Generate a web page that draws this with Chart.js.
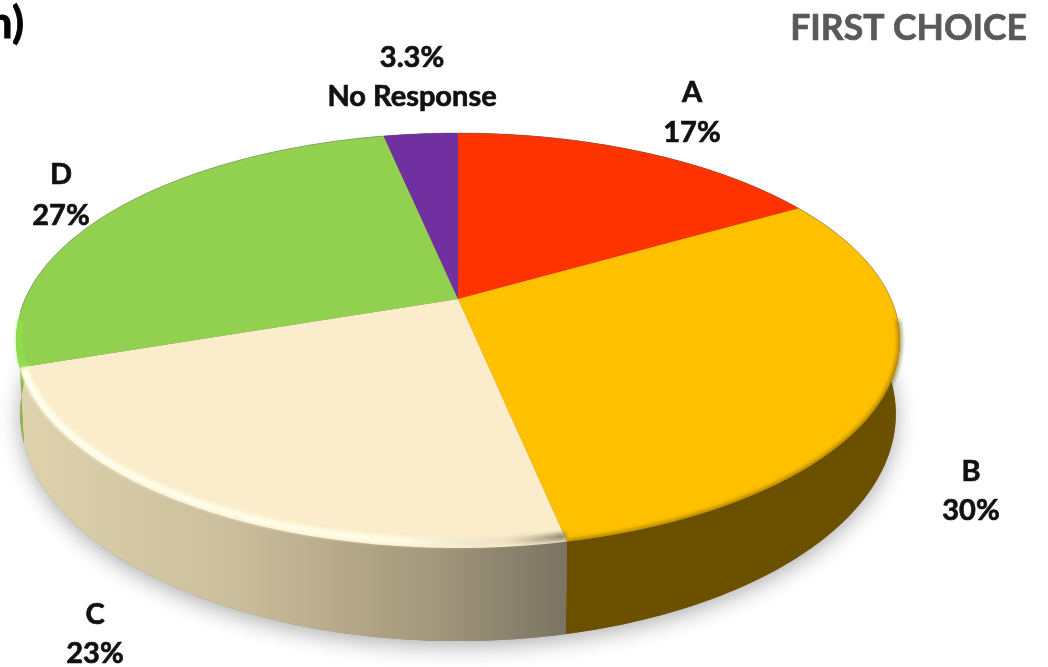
<!DOCTYPE html>
<html>
<head>
<meta charset="utf-8">
<title>First Choice</title>
<script src="https://cdn.jsdelivr.net/npm/chart.js@4"></script>
<style>
  html, body { margin: 0; padding: 0; background: #fff; overflow: hidden; }
  canvas { display: block; }
</style>
</head>
<body>
<div style="width:1048px;height:667px"><canvas id="myChart"></canvas></div>
<script>
// data
var categories = ["A", "B", "C", "D", "No Response"]
var values = [16.7, 30.2, 23.1, 27, 3.3]
var valueLabels = ["17%", "30%", "23%", "27%", "3.3%"]
var colors = ["#FF3300", "#FFC000", "#FBEDCB", "#92D050", "#7030A0"]
var chartTitle = "FIRST CHOICE"
var cutTitle = "n)"

// where the label pairs sit: centre x, first line y, second line y
var labelPos = [[692, 93, 133], [971, 472, 511], [95, 615, 654], [61, 175, 216], [412, 97, 58]]

// tilted disc, a perspective view of the flat pie
var top3d = { cx: 458, cy: 299, a: 433, b: 199.2, k: 0.2 }
var bottom3d = { cx: 458, cy: 368.6, a: 429, b: 218, k: 0.2 }

function project(p, ang) {
  var u = Math.cos(ang), v = Math.sin(ang)
  var w = 1 - p.k * v
  return [p.cx + p.a * u / w, p.cy + p.b * v / w]
}

function traceArc(ctx, p, from, to, move) {
  var n = 120
  for (var i = 0; i <= n; i++) {
    var q = project(p, from + (to - from) * i / n)
    if (i === 0 && move) ctx.moveTo(q[0], q[1])
    else ctx.lineTo(q[0], q[1])
  }
}

// draw the library's arcs one pixel row at a time, each row with its own scale
function drawArcsInPerspective(chart, arcs) {
  var ctx = chart.ctx
  var p = top3d
  var first = arcs[0]
  var r = first.outerRadius
  for (var Y = 120; Y < 560; Y++) {
    var v0 = (Y - p.cy) / (p.b + p.k * (Y - p.cy))
    var v1 = (Y + 1 - p.cy) / (p.b + p.k * (Y + 1 - p.cy))
    if (v0 < -1.02 || v1 > 1.02) continue
    var w = 1 - p.k * (v0 + v1) / 2
    var sx = p.a / w / r
    var sy = 1 / (r * (v1 - v0))
    ctx.save()
    ctx.setTransform(1, 0, 0, 1, 0, 0)
    ctx.beginPath()
    ctx.rect(0, Y, 1048, 1)
    ctx.clip()
    ctx.setTransform(sx, 0, 0, sy, p.cx - first.x * sx, Y - (first.y + r * v0) * sy)
    arcs.forEach(function(arc) { arc.draw(ctx, chart.chartArea) })
    ctx.restore()
  }
}

function drawWalls(ctx, arcs) {
  // soft shadow under the disc
  ctx.save()
  ctx.shadowColor = "rgba(0,0,0,0.32)"
  ctx.shadowBlur = 22
  ctx.shadowOffsetX = 0
  ctx.shadowOffsetY = 5
  ctx.fillStyle = "#8a8470"
  ctx.beginPath()
  traceArc(ctx, bottom3d, 0, Math.PI * 2, true)
  ctx.closePath()
  ctx.fill()
  ctx.restore()

  var creamWall = ctx.createLinearGradient(20, 0, 568, 0)
  creamWall.addColorStop(0, "#DFD3AE")
  creamWall.addColorStop(0.4, "#CABD9B")
  creamWall.addColorStop(0.75, "#A4987D")
  creamWall.addColorStop(1, "#797361")
  var wallColors = ["#6B5000", "#6B5000", creamWall, "#8AB84A", "#4A2070"]

  arcs.forEach(function(arc, i) {
    ctx.beginPath()
    traceArc(ctx, top3d, arc.startAngle, arc.endAngle, true)
    traceArc(ctx, bottom3d, arc.endAngle, arc.startAngle, false)
    ctx.closePath()
    ctx.fillStyle = wallColors[i]
    ctx.fill()
  })
}

// bright or dark bevel along the rim of the top face
function drawRim(ctx, arcs) {
  var cream = arcs[2], gold = arcs[1], green = arcs[3]

  var light = ctx.createLinearGradient(20, 0, 560, 0)
  light.addColorStop(0, "rgba(255,255,240,1)")
  light.addColorStop(0.7, "rgba(255,255,235,0.95)")
  light.addColorStop(0.9, "rgba(225,215,190,0.6)")
  light.addColorStop(1, "rgba(120,112,95,0.8)")

  ctx.save()
  ctx.filter = "blur(2px)"
  ctx.lineWidth = 7
  ctx.strokeStyle = light
  ctx.beginPath()
  traceArc(ctx, { cx: 458, cy: 298, a: 430, b: 195.5, k: 0.2 }, cream.startAngle, cream.endAngle - 0.01, true)
  ctx.stroke()

  ctx.lineWidth = 3
  ctx.strokeStyle = "rgba(107,80,0,0.85)"
  ctx.beginPath()
  traceArc(ctx, top3d, 0.1, gold.endAngle, true)
  ctx.stroke()

  ctx.lineWidth = 5
  ctx.strokeStyle = "rgba(140,230,70,0.9)"
  ctx.beginPath()
  traceArc(ctx, { cx: 458, cy: 299, a: 430, b: 198, k: 0.2 }, green.startAngle, green.startAngle + 0.22, true)
  ctx.stroke()
  ctx.restore()

  // thin grey line round the far edge
  ctx.save()
  ctx.lineWidth = 1
  ctx.strokeStyle = "rgba(90,90,90,0.35)"
  ctx.beginPath()
  traceArc(ctx, top3d, Math.PI * 0.98, Math.PI * 2.03, true)
  ctx.stroke()
  ctx.restore()
}

function boldText(ctx, text, x, y, extra) {
  ctx.lineWidth = extra
  ctx.strokeStyle = ctx.fillStyle
  ctx.strokeText(text, x, y)
  ctx.fillText(text, x, y)
}

const disc3d = {
  id: "disc3d",
  beforeDatasetsDraw(chart) {
    var arcs = chart.getDatasetMeta(0).data
    drawWalls(chart.ctx, arcs)
    drawArcsInPerspective(chart, arcs)
    drawRim(chart.ctx, arcs)
    return false
  },
  afterDraw(chart) {
    var ctx = chart.ctx
    ctx.save()
    ctx.textBaseline = "middle"
    ctx.textAlign = "center"
    ctx.fillStyle = "#111111"
    ctx.font = "bold 29px Lato"
    categories.forEach(function(name, i) {
      boldText(ctx, name, labelPos[i][0], labelPos[i][1], 0.7)
      boldText(ctx, valueLabels[i], labelPos[i][0], labelPos[i][2], 0.7)
    })
    ctx.fillStyle = "#595959"
    ctx.font = "bold 35.5px Lato"
    ctx.textAlign = "right"
    boldText(ctx, chartTitle, 1027, 29, 0.7)
    ctx.fillStyle = "#000"
    ctx.font = "bold 44px Lato"
    boldText(ctx, cutTitle, 24, 24, 0.8)
    ctx.restore()
  }
}

var ctx = document.getElementById("myChart").getContext("2d")
var myChart = new Chart(ctx, {
  type: "pie",
  data: {
    labels: categories,
    datasets: [{
      data: values,
      backgroundColor: colors,
      borderWidth: 0
    }]
  },
  options: {
    responsive: true,
    maintainAspectRatio: false,
    devicePixelRatio: 1,
    animation: false,
    events: [],
    plugins: {
      legend: { display: false },
      tooltip: { enabled: false }
    }
  },
  plugins: [disc3d]
})
</script>
</body>
</html>
